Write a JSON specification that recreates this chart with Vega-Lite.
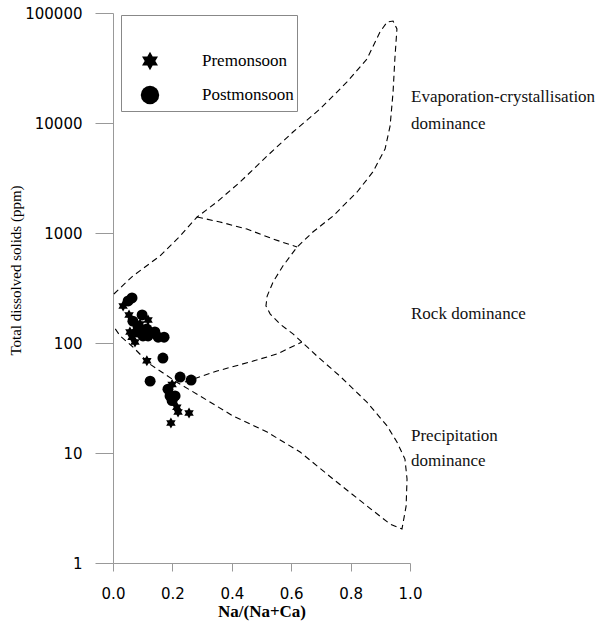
{
  "$schema": "https://vega.github.io/schema/vega-lite/v6.json",
  "width": 297,
  "height": 550,
  "autosize": {"type": "none"},
  "padding": {"left": 113, "top": 13, "right": 195, "bottom": 62},
  "background": "white",
  "config": {"view": {"stroke": null}, "axis": {"grid": false}},
  "datasets": {
    "boundary": [
      {"seg": "outer", "i": 1, "x": 0.003, "y": 279},
      {"seg": "outer", "i": 2, "x": 0.067, "y": 407},
      {"seg": "outer", "i": 3, "x": 0.158, "y": 618},
      {"seg": "outer", "i": 4, "x": 0.226, "y": 939},
      {"seg": "outer", "i": 5, "x": 0.283, "y": 1397},
      {"seg": "outer", "i": 6, "x": 0.350, "y": 1914},
      {"seg": "outer", "i": 7, "x": 0.428, "y": 2910},
      {"seg": "outer", "i": 8, "x": 0.519, "y": 5012},
      {"seg": "outer", "i": 9, "x": 0.606, "y": 8279},
      {"seg": "outer", "i": 10, "x": 0.697, "y": 13400},
      {"seg": "outer", "i": 11, "x": 0.788, "y": 23600},
      {"seg": "outer", "i": 12, "x": 0.855, "y": 38200},
      {"seg": "outer", "i": 13, "x": 0.899, "y": 67200},
      {"seg": "outer", "i": 14, "x": 0.923, "y": 82800},
      {"seg": "outer", "i": 15, "x": 0.943, "y": 84600},
      {"seg": "outer", "i": 16, "x": 0.956, "y": 71600},
      {"seg": "outer", "i": 17, "x": 0.949, "y": 38200},
      {"seg": "outer", "i": 18, "x": 0.943, "y": 19100},
      {"seg": "outer", "i": 19, "x": 0.933, "y": 9400},
      {"seg": "outer", "i": 20, "x": 0.916, "y": 5800},
      {"seg": "outer", "i": 21, "x": 0.875, "y": 3590},
      {"seg": "outer", "i": 22, "x": 0.822, "y": 2360},
      {"seg": "outer", "i": 23, "x": 0.741, "y": 1428},
      {"seg": "outer", "i": 24, "x": 0.673, "y": 1021},
      {"seg": "outer", "i": 25, "x": 0.620, "y": 746},
      {"seg": "outer", "i": 26, "x": 0.572, "y": 501},
      {"seg": "outer", "i": 27, "x": 0.539, "y": 359},
      {"seg": "outer", "i": 28, "x": 0.519, "y": 267},
      {"seg": "outer", "i": 29, "x": 0.515, "y": 217},
      {"seg": "outer", "i": 30, "x": 0.529, "y": 184},
      {"seg": "outer", "i": 31, "x": 0.562, "y": 149},
      {"seg": "outer", "i": 32, "x": 0.606, "y": 121},
      {"seg": "outer", "i": 33, "x": 0.636, "y": 102},
      {"seg": "outer", "i": 34, "x": 0.687, "y": 76},
      {"seg": "outer", "i": 35, "x": 0.764, "y": 50},
      {"seg": "outer", "i": 36, "x": 0.855, "y": 29},
      {"seg": "outer", "i": 37, "x": 0.923, "y": 17.6},
      {"seg": "outer", "i": 38, "x": 0.956, "y": 12.6},
      {"seg": "outer", "i": 39, "x": 0.983, "y": 8.8},
      {"seg": "outer", "i": 40, "x": 0.990, "y": 5.8},
      {"seg": "outer", "i": 41, "x": 0.987, "y": 3.3},
      {"seg": "outer", "i": 42, "x": 0.973, "y": 2.04},
      {"seg": "outer", "i": 43, "x": 0.933, "y": 2.26},
      {"seg": "outer", "i": 44, "x": 0.855, "y": 3.3},
      {"seg": "outer", "i": 45, "x": 0.741, "y": 5.8},
      {"seg": "outer", "i": 46, "x": 0.630, "y": 10.2},
      {"seg": "outer", "i": 47, "x": 0.519, "y": 15.5},
      {"seg": "outer", "i": 48, "x": 0.404, "y": 21.7},
      {"seg": "outer", "i": 49, "x": 0.293, "y": 33},
      {"seg": "outer", "i": 50, "x": 0.215, "y": 44},
      {"seg": "outer", "i": 51, "x": 0.125, "y": 64},
      {"seg": "outer", "i": 52, "x": 0.067, "y": 92},
      {"seg": "outer", "i": 53, "x": 0.024, "y": 116},
      {"seg": "outer", "i": 54, "x": 0.003, "y": 140},
      {"seg": "uppermid", "i": 1, "x": 0.283, "y": 1397},
      {"seg": "uppermid", "i": 2, "x": 0.360, "y": 1259},
      {"seg": "uppermid", "i": 3, "x": 0.451, "y": 1087},
      {"seg": "uppermid", "i": 4, "x": 0.539, "y": 881},
      {"seg": "uppermid", "i": 5, "x": 0.620, "y": 746},
      {"seg": "lowermid", "i": 1, "x": 0.242, "y": 44.2},
      {"seg": "lowermid", "i": 2, "x": 0.350, "y": 55.6},
      {"seg": "lowermid", "i": 3, "x": 0.461, "y": 67.2},
      {"seg": "lowermid", "i": 4, "x": 0.552, "y": 79.4},
      {"seg": "lowermid", "i": 5, "x": 0.636, "y": 102}
    ],
    "samples": [
      {"season": "Premonsoon", "x": 0.034, "y": 217},
      {"season": "Premonsoon", "x": 0.054, "y": 180},
      {"season": "Premonsoon", "x": 0.118, "y": 162},
      {"season": "Premonsoon", "x": 0.057, "y": 126},
      {"season": "Premonsoon", "x": 0.064, "y": 113},
      {"season": "Premonsoon", "x": 0.074, "y": 102},
      {"season": "Premonsoon", "x": 0.091, "y": 149},
      {"season": "Premonsoon", "x": 0.114, "y": 69},
      {"season": "Premonsoon", "x": 0.199, "y": 42},
      {"season": "Premonsoon", "x": 0.215, "y": 26},
      {"season": "Premonsoon", "x": 0.219, "y": 23.6},
      {"season": "Premonsoon", "x": 0.256, "y": 23.1},
      {"season": "Premonsoon", "x": 0.195, "y": 18.7},
      {"season": "Postmonsoon", "x": 0.051, "y": 241},
      {"season": "Postmonsoon", "x": 0.064, "y": 257},
      {"season": "Postmonsoon", "x": 0.098, "y": 180},
      {"season": "Postmonsoon", "x": 0.084, "y": 143},
      {"season": "Postmonsoon", "x": 0.081, "y": 126},
      {"season": "Postmonsoon", "x": 0.101, "y": 116},
      {"season": "Postmonsoon", "x": 0.118, "y": 116},
      {"season": "Postmonsoon", "x": 0.141, "y": 126},
      {"season": "Postmonsoon", "x": 0.152, "y": 113},
      {"season": "Postmonsoon", "x": 0.172, "y": 113},
      {"season": "Postmonsoon", "x": 0.114, "y": 134},
      {"season": "Postmonsoon", "x": 0.091, "y": 134},
      {"season": "Postmonsoon", "x": 0.067, "y": 158},
      {"season": "Postmonsoon", "x": 0.168, "y": 73},
      {"season": "Postmonsoon", "x": 0.125, "y": 45},
      {"season": "Postmonsoon", "x": 0.226, "y": 49},
      {"season": "Postmonsoon", "x": 0.263, "y": 46},
      {"season": "Postmonsoon", "x": 0.185, "y": 38},
      {"season": "Postmonsoon", "x": 0.192, "y": 33},
      {"season": "Postmonsoon", "x": 0.209, "y": 33},
      {"season": "Postmonsoon", "x": 0.199, "y": 30}
    ],
    "labels": [
      {"label": "Evaporation-crystallisation", "x": 1.0, "y": 17230},
      {"label": "dominance", "x": 1.0, "y": 9795},
      {"label": "Rock dominance", "x": 1.0, "y": 183.5},
      {"label": "Precipitation", "x": 1.0, "y": 14.3},
      {"label": "dominance", "x": 1.0, "y": 8.46}
    ]
  },
  "layer": [
    {
      "data": {"name": "boundary"},
      "mark": {"type": "line", "color": "black", "strokeWidth": 1.1, "strokeDash": [6, 4]},
      "encoding": {
        "x": {
          "field": "x", "type": "quantitative",
          "scale": {"domain": [0, 1], "nice": false, "zero": false},
          "axis": {
            "values": [0, 0.2, 0.4, 0.6, 0.8, 1.0],
            "format": ".1f",
            "title": "Na/(Na+Ca)",
            "titleFont": "Liberation Serif",
            "titleFontSize": 17,
            "titleFontWeight": "bold",
            "titleColor": "black",
            "titlePadding": 2,
            "labelFont": "DejaVu Sans",
            "labelFontSize": 15,
            "labelColor": "black",
            "labelFlush": false,
            "labelOverlap": false,
            "tickSize": 8,
            "labelPadding": 15,
            "domainColor": "#999",
            "tickColor": "#999",
            "grid": false
          }
        },
        "y": {
          "field": "y", "type": "quantitative",
          "scale": {"type": "log", "domain": [1, 100000], "nice": false},
          "axis": {
            "values": [1, 10, 100, 1000, 10000, 100000],
            "format": "d",
            "title": "Total dissolved solids (ppm)",
            "titleFont": "Liberation Serif",
            "titleFontSize": 15,
            "titleFontWeight": "normal",
            "titleColor": "black",
            "titlePadding": 1,
            "titleY": 257,
            "labelFont": "DejaVu Sans",
            "labelFontSize": 15,
            "labelColor": "black",
            "labelFlush": false,
            "labelOverlap": false,
            "tickSize": 18,
            "labelPadding": 13,
            "domainColor": "#999",
            "tickColor": "#999",
            "grid": false
          }
        },
        "detail": {"field": "seg", "type": "nominal"},
        "order": {"field": "i", "type": "quantitative"}
      }
    },
    {
      "data": {"name": "samples"},
      "mark": {"type": "point", "filled": true, "color": "black", "size": 120, "opacity": 1},
      "encoding": {
        "x": {"field": "x", "type": "quantitative"},
        "y": {"field": "y", "type": "quantitative"},
        "shape": {
          "field": "season", "type": "nominal",
          "scale": {
            "domain": ["Premonsoon", "Postmonsoon"],
            "range": ["M0,-1L0.289,-0.5L0.866,-0.5L0.577,0L0.866,0.5L0.289,0.5L0,1L-0.289,0.5L-0.866,0.5L-0.577,0L-0.866,-0.5L-0.289,-0.5Z", "circle"]
          },
          "legend": {
            "title": " ",
            "orient": "none",
            "legendX": 8,
            "legendY": 2,
            "padding": 3,
            "strokeColor": "#888",
            "fillColor": "white",
            "symbolOffset": 16,
            "labelOffset": 42,
            "labelFont": "Liberation Serif",
            "labelFontSize": 17,
            "labelColor": "black",
            "labelLimit": 300,
            "titleFontSize": 17,
            "titlePadding": 16,
            "rowPadding": 8,
            "symbolSize": 340,
            "encode": {
              "symbols": {
                "update": {
                  "size": {"value": 340},
                  "fill": {"value": "black"},
                  "stroke": {"value": "black"},
                  "strokeWidth": {"value": 0},
                  "opacity": {"value": 1}
                }
              }
            }
          }
        }
      }
    },
    {
      "data": {"name": "labels"},
      "mark": {"type": "text", "align": "left", "baseline": "middle", "font": "Liberation Serif", "fontSize": 17, "color": "#111", "dx": 1},
      "encoding": {
        "x": {"field": "x", "type": "quantitative"},
        "y": {"field": "y", "type": "quantitative"},
        "text": {"field": "label", "type": "nominal"}
      }
    }
  ]
}
